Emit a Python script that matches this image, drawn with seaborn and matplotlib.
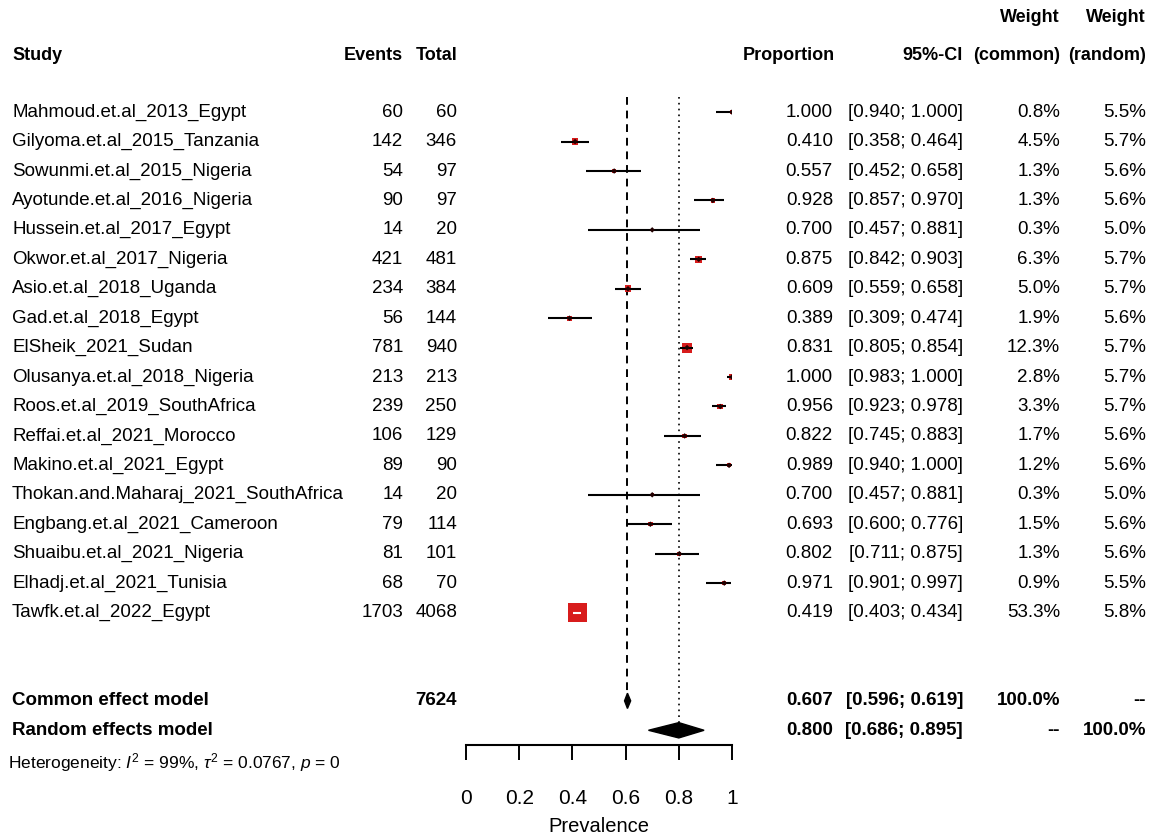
import numpy as np
import pandas as pd
import matplotlib
matplotlib.use("Agg")
import matplotlib.pyplot as plt
import matplotlib.transforms as mtransforms
import seaborn as sns

# Study-level data
studies = [
    "Mahmoud.et.al_2013_Egypt", "Gilyoma.et.al_2015_Tanzania", "Sowunmi.et.al_2015_Nigeria",
    "Ayotunde.et.al_2016_Nigeria", "Hussein.et.al_2017_Egypt", "Okwor.et.al_2017_Nigeria",
    "Asio.et.al_2018_Uganda", "Gad.et.al_2018_Egypt", "ElSheik_2021_Sudan",
    "Olusanya.et.al_2018_Nigeria", "Roos.et.al_2019_SouthAfrica", "Reffai.et.al_2021_Morocco",
    "Makino.et.al_2021_Egypt", "Thokan.and.Maharaj_2021_SouthAfrica", "Engbang.et.al_2021_Cameroon",
    "Shuaibu.et.al_2021_Nigeria", "Elhadj.et.al_2021_Tunisia", "Tawfk.et.al_2022_Egypt",
]
events = [60, 142, 54, 90, 14, 421, 234, 56, 781, 213, 239, 106, 89, 14, 79, 81, 68, 1703]
totals = [60, 346, 97, 97, 20, 481, 384, 144, 940, 213, 250, 129, 90, 20, 114, 101, 70, 4068]
proportion = [1.000, 0.410, 0.557, 0.928, 0.700, 0.875, 0.609, 0.389, 0.831,
              1.000, 0.956, 0.822, 0.989, 0.700, 0.693, 0.802, 0.971, 0.419]
ci_lower = [0.940, 0.358, 0.452, 0.857, 0.457, 0.842, 0.559, 0.309, 0.805,
            0.983, 0.923, 0.745, 0.940, 0.457, 0.600, 0.711, 0.901, 0.403]
ci_upper = [1.000, 0.464, 0.658, 0.970, 0.881, 0.903, 0.658, 0.474, 0.854,
            1.000, 0.978, 0.883, 1.000, 0.881, 0.776, 0.875, 0.997, 0.434]
weight_common = [0.8, 4.5, 1.3, 1.3, 0.3, 6.3, 5.0, 1.9, 12.3,
                 2.8, 3.3, 1.7, 1.2, 0.3, 1.5, 1.3, 0.9, 53.3]
weight_random = [5.5, 5.7, 5.6, 5.6, 5.0, 5.7, 5.7, 5.6, 5.7,
                 5.7, 5.7, 5.6, 5.6, 5.0, 5.6, 5.6, 5.5, 5.8]

# Pooled estimates
common_est, common_lo, common_hi = 0.607, 0.596, 0.619
random_est, random_lo, random_hi = 0.800, 0.686, 0.895
total_n = 7624
xticks = [0, 0.2, 0.4, 0.6, 0.8, 1]
xtick_labels = ["0", "0.2", "0.4", "0.6", "0.8", "1"]

df = pd.DataFrame({
    "study": studies, "events": events, "total": totals, "prop": proportion,
    "lo": ci_lower, "hi": ci_upper, "wc": weight_common, "wr": weight_random,
})
df["row"] = np.arange(len(df))

sns.set_style("white")
plt.rcParams["font.family"] = ["Liberation Sans", "DejaVu Sans"]
plt.rcParams["mathtext.fontset"] = "custom"
plt.rcParams["mathtext.rm"] = "Liberation Sans"
plt.rcParams["mathtext.it"] = "Liberation Sans:italic"
plt.rcParams["text.color"] = "black"
plt.rcParams["axes.labelcolor"] = "black"

W, H = 1154, 836
fig = plt.figure(figsize=(W / 100, H / 100), dpi=100)
ROW0, STEP = 112, 29.4
top_row = (0 - ROW0) / STEP
ax = fig.add_axes([466 / W, 1 - 745 / H, 266 / W, 745 / H])
ax.set_xlim(0, 1)
ax.set_ylim(21.5, top_row)

fs = 13.5
red = "#d81c1c"

# reference lines
ax.vlines(common_est, -0.5, 19.9, color="black", lw=1.4, linestyles=(0, (4, 3)))
ax.vlines(random_est, -0.5, 20.8, color="black", lw=1.2, linestyles=(0, (1, 2.5)))

# squares sized by common-effect weight (side ~ sqrt(weight))
side_px = 2.4 * np.sqrt(df["wc"]) + 1.4
df["area"] = (side_px * 0.72) ** 2
sns.scatterplot(data=df, x="prop", y="row", size="area",
                sizes=(df["area"].min(), df["area"].max()),
                marker="s", color=red, edgecolor="none", legend=False, ax=ax, zorder=3)

# confidence intervals: white where clearly hidden inside the square
inside = (df["hi"] - df["lo"]) < 0.8 * side_px / 266
ax.hlines(df["row"][~inside], df["lo"][~inside], df["hi"][~inside], color="black", lw=1.5, zorder=4)
ax.hlines(df["row"][inside], df["lo"][inside], df["hi"][inside], color="white", lw=1.5, zorder=4)
sns.scatterplot(data=df[~inside], x="prop", y="row", marker="D", s=8,
                color="#200000", edgecolor="none", legend=False, ax=ax, zorder=5)

# pooled diamonds
for r, (lo, est, hi) in [(20, (common_lo, common_est, common_hi)),
                         (21, (random_lo, random_est, random_hi))]:
    ax.fill([lo, est, hi, est], [r, r - 0.26, r, r + 0.26], color="black", zorder=5)

ax.set_xticks(xticks)
ax.set_xticklabels(xtick_labels, fontsize=fs + 1.5)
ax.set_yticks([])
ax.set_xlabel("Prevalence", fontsize=fs + 1, labelpad=6)
ax.set_ylabel("")
for s in ["top", "left", "right"]:
    ax.spines[s].set_visible(False)
ax.spines["bottom"].set_linewidth(1.5)
ax.spines["bottom"].set_color("black")
ax.tick_params(axis="x", direction="out", length=11, width=1.4, pad=21, colors="black", bottom=True)

trans = mtransforms.blended_transform_factory(fig.transFigure, ax.transData)


def put(px, row, s, ha="right", **kw):
    kw.setdefault("fontsize", fs)
    ax.text(px / W, row, s, ha=ha, va="center", transform=trans, **kw)


# headers
hrow = (55 - ROW0) / STEP
wrow = (17 - ROW0) / STEP
hfs = 13
put(12, hrow, "Study", ha="left", fontweight="bold", fontsize=hfs)
put(403, hrow, "Events", fontweight="bold", fontsize=hfs)
put(457, hrow, "Total", fontweight="bold", fontsize=hfs)
put(835, hrow, "Proportion", fontweight="bold", fontsize=hfs)
put(963, hrow, "95%-CI", fontweight="bold", fontsize=hfs)
put(1060, hrow, "(common)", fontweight="bold", fontsize=hfs)
put(1146, hrow, "(random)", fontweight="bold", fontsize=hfs)
put(1060, wrow, "Weight", fontweight="bold", fontsize=hfs)
put(1146, wrow, "Weight", fontweight="bold", fontsize=hfs)

for _, r in df.iterrows():
    put(12, r["row"], r["study"], ha="left")
    put(403, r["row"], f"{int(r['events'])}")
    put(457, r["row"], f"{int(r['total'])}")
    put(833, r["row"], f"{r['prop']:.3f}")
    put(963, r["row"], f"[{r['lo']:.3f}; {r['hi']:.3f}]")
    put(1060, r["row"], f"{r['wc']:.1f}%")
    put(1146, r["row"], f"{r['wr']:.1f}%")

# summary rows
put(12, 20, "Common effect model", ha="left", fontweight="bold")
put(457, 20, f"{total_n}", fontweight="bold")
put(833, 20, f"{common_est:.3f}", fontweight="bold")
put(963, 20, f"[{common_lo:.3f}; {common_hi:.3f}]", fontweight="bold")
put(1060, 20, "100.0%", fontweight="bold")
put(1146, 20, "--", fontweight="bold")
put(12, 21, "Random effects model", ha="left", fontweight="bold")
put(833, 21, f"{random_est:.3f}", fontweight="bold")
put(963, 21, f"[{random_lo:.3f}; {random_hi:.3f}]", fontweight="bold")
put(1060, 21, "--", fontweight="bold")
put(1146, 21, "100.0%", fontweight="bold")
put(8, 22.1, r"Heterogeneity: $I^2$ = 99%, $\tau^2$ = 0.0767, $p$ = 0", ha="left", fontsize=fs - 1)

fig.savefig("out.png", dpi=100, facecolor="white")
